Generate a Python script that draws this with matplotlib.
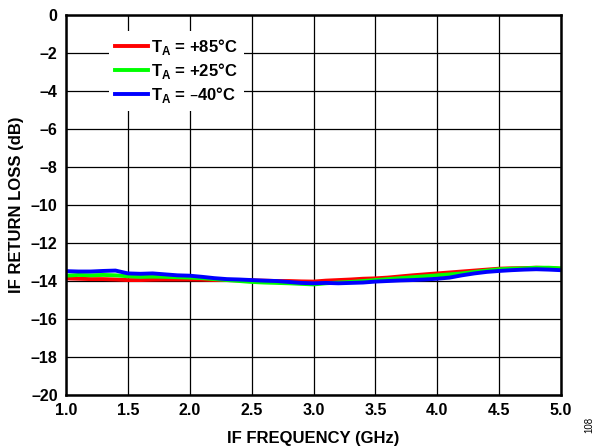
import matplotlib
matplotlib.use("Agg")
import matplotlib.pyplot as plt
import numpy as np

# IF return loss vs IF frequency, three temperatures
freq = [1.0, 1.1, 1.2, 1.3, 1.4, 1.5, 1.6, 1.7, 1.8, 1.9,
        2.0, 2.1, 2.2, 2.3, 2.4, 2.5, 2.6, 2.7, 2.8, 2.9,
        3.0, 3.1, 3.2, 3.3, 3.4, 3.5, 3.6, 3.7, 3.8, 3.9,
        4.0, 4.1, 4.2, 4.3, 4.4, 4.5, 4.6, 4.7, 4.8, 4.9, 5.0]

rl_85 = [-13.86, -13.88, -13.90, -13.90, -13.92, -13.95, -13.95, -13.93, -13.92, -13.92,
         -13.92, -13.93, -13.95, -13.95, -13.96, -13.97, -13.98, -14.00, -14.00, -14.02,
         -14.03, -13.98, -13.95, -13.92, -13.88, -13.86, -13.82, -13.76, -13.70, -13.65,
         -13.60, -13.55, -13.50, -13.45, -13.40, -13.35, -13.33, -13.32, -13.30, -13.32, -13.36]

rl_25 = [-13.72, -13.68, -13.70, -13.68, -13.70, -13.75, -13.78, -13.77, -13.78, -13.80,
         -13.82, -13.85, -13.90, -13.95, -14.00, -14.05, -14.08, -14.10, -14.12, -14.15,
         -14.18, -14.12, -14.08, -14.05, -14.00, -13.95, -13.90, -13.85, -13.80, -13.75,
         -13.70, -13.65, -13.60, -13.52, -13.45, -13.38, -13.35, -13.33, -13.30, -13.30, -13.33]

rl_m40 = [-13.48, -13.50, -13.50, -13.47, -13.45, -13.60, -13.62, -13.60, -13.65, -13.70,
          -13.72, -13.78, -13.85, -13.90, -13.92, -13.95, -13.98, -14.00, -14.05, -14.10,
          -14.12, -14.10, -14.12, -14.10, -14.08, -14.03, -14.00, -13.97, -13.95, -13.92,
          -13.88, -13.82, -13.70, -13.60, -13.52, -13.47, -13.43, -13.40, -13.38, -13.40, -13.43]

labels = [r"T$_\mathregular{A}$ = +85°C", r"T$_\mathregular{A}$ = +25°C", r"T$_\mathregular{A}$ = –40°C"]
colors = ["#ff0000", "#00ff00", "#0000ff"]

xticks = [1.0, 1.5, 2.0, 2.5, 3.0, 3.5, 4.0, 4.5, 5.0]
yticks = [0, -2, -4, -6, -8, -10, -12, -14, -16, -18, -20]

plt.rcParams["font.family"] = ["Liberation Sans", "DejaVu Sans"]
plt.rcParams["font.weight"] = "bold"

fig = plt.figure(figsize=(6, 4.47), dpi=100)
ax = fig.add_axes([0.11, 0.1163, 0.825, 0.8501])

for y, c, lab in zip([rl_85, rl_25, rl_m40], colors, labels):
    ax.plot(freq, y, color=c, lw=2.8, label=lab)

ax.set_xlim(1.0, 5.0)
ax.set_ylim(-20, 0)
ax.set_xticks(xticks)
ax.set_xticklabels(["%.1f" % v for v in xticks], fontsize=11.5, fontweight="bold")
ax.set_yticks(yticks)
ax.set_yticklabels([("–%d" % -v) if v < 0 else "0" for v in yticks], fontsize=11.5, fontweight="bold")
ax.tick_params(length=0, pad=6)
ax.grid(True, color="black", lw=0.9)
for s in ax.spines.values():
    s.set_linewidth(1.8)

ax.set_xlabel("IF FREQUENCY (GHz)", fontsize=12, fontweight="bold", labelpad=9)
ax.set_ylabel("IF RETURN LOSS (dB)", fontsize=12, fontweight="bold", labelpad=5)

leg = ax.legend(loc="upper left", bbox_to_anchor=(0.07, 0.98), frameon=True,
                fancybox=False, edgecolor="none", facecolor="white", framealpha=1,
                fontsize=12, handlelength=2.0, handletextpad=0.2, labelspacing=0.25,
                borderpad=0.35)
for t in leg.get_texts():
    t.set_fontweight("bold")

fig.text(0.983, 0.05, "108", rotation=90, fontsize=7, fontweight="normal",
         ha="center", va="center")

fig.savefig("out.png", dpi=100)
